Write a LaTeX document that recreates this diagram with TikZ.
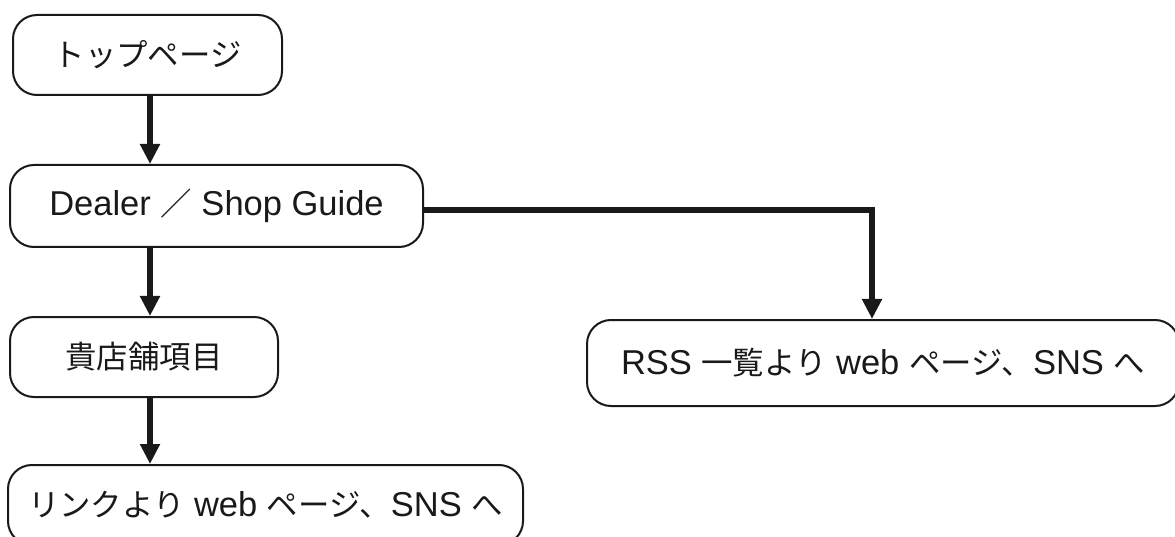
\documentclass[tikz,border=0pt]{standalone}
\usepackage{fontspec}
\setmainfont{Liberation Sans}
\newfontfamily\jp{Noto Sans CJK JP}[Scale=0.91]
\usetikzlibrary{arrows.meta}
\begin{document}
\begin{tikzpicture}[x=1pt,y=1pt,
  box/.style={draw=black!90, line width=2pt, rounded corners=24pt, inner sep=0pt,
    font=\fontsize{34.5}{38}\selectfont, text=black!90},
  arr/.style={draw=black!90, line width=6pt, -{Triangle[width=19pt,length=20pt]}}]
\useasboundingbox (0,0) rectangle (1175,-537);
\node[box, minimum width=269pt, minimum height=80pt] (top) at (147.5,-55) {\jp トップページ};
\node[box, minimum width=413pt, minimum height=82pt] (dealer) at (216.5,-206) {Dealer {\jp ／} Shop Guide};
\node[box, minimum width=268pt, minimum height=80pt] (kiten) at (144,-357) {\jp 貴店舗項目};
\node[box, minimum width=515pt, minimum height=80pt] (link) at (265.5,-505) {{\jp リンクより} web {\jp ページ、}SNS {\jp へ}};
\node[box, minimum width=592pt, minimum height=86pt] (rss) at (883,-363) {RSS {\jp 一覧より} web {\jp ページ、}SNS {\jp へ}};
\coordinate (col) at (150,0);
\coordinate (rcol) at (872,0);
\draw[arr] (top.south -| col) -- (dealer.north -| col);
\draw[arr] (dealer.south -| col) -- (kiten.north -| col);
\draw[arr] (kiten.south -| col) -- (link.north -| col);
\draw[arr] ([yshift=-4pt]dealer.east) -| (rss.north -| rcol);
\end{tikzpicture}
\end{document}
